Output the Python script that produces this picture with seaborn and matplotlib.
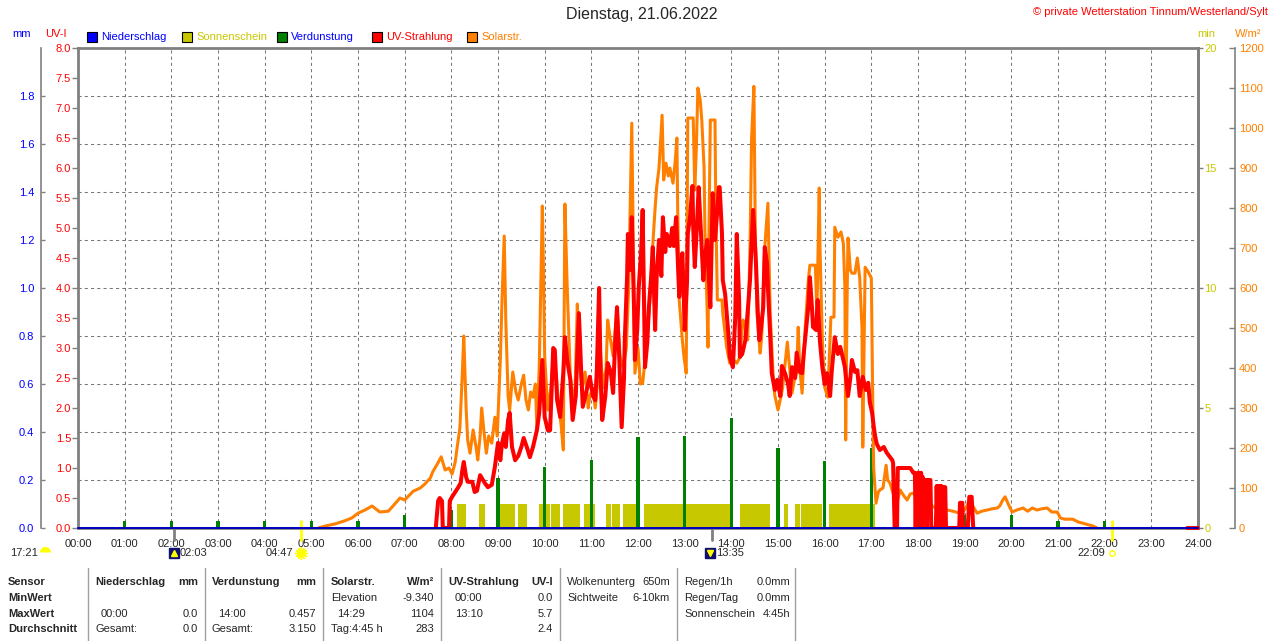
import numpy as np
import seaborn as sns
import matplotlib.pyplot as plt
import matplotlib.transforms as mtransforms
from matplotlib.patches import Rectangle
from matplotlib.lines import Line2D
from matplotlib.ticker import FormatStrFormatter

# ---------------- data, read off the station plot of 21.06.2022 ----------------
# Solarstrahlung: minute of day, W/m2
sol_min = [309, 318, 330, 343, 352, 360, 369, 378, 388, 399, 405, 414, 420, 431, 440, 446, 453, 456, 462, 467,
           472, 477, 481, 485, 487, 491, 494, 496, 499, 501, 504, 508, 512, 514, 517, 519, 522, 525, 528, 532,
           536, 539, 543, 545, 548, 550, 553, 555, 559, 563, 566, 570, 573, 576, 579, 582, 585, 588, 590, 593,
           595, 597, 598, 600, 604, 608, 611, 615, 617, 621, 624, 625, 626, 629, 633, 636, 639, 642, 644, 648,
           652, 656, 658, 662, 665, 669, 671, 675, 679, 681, 684, 688, 693, 697, 701, 705, 708, 711, 712, 714,
           716, 720, 723, 726, 729, 732, 735, 739, 742, 744, 747, 750, 751, 753, 756, 759, 761, 765, 768, 770,
           771, 773, 777, 779, 782, 783, 784, 791, 793, 795, 797, 800, 802, 805, 806, 809, 810, 811, 813, 819,
           820, 822, 828, 829, 834, 838, 843, 847, 851, 855, 858, 861, 864, 866, 869, 870, 871, 873, 877, 879,
           883, 887, 890, 894, 896, 900, 904, 906, 912, 914, 918, 922, 924, 926, 928, 931, 935, 939, 941, 948,
           950, 953, 954, 957, 960, 964, 968, 972, 973, 977, 981, 984, 986, 987, 989, 990, 993, 995, 999, 1002,
           1005, 1008, 1009, 1011, 1012, 1016, 1020, 1022, 1023, 1026, 1029, 1031, 1035, 1039, 1041, 1044, 1048,
           1052, 1054, 1057, 1062, 1066, 1070, 1074, 1079, 1083, 1088, 1092, 1095, 1099, 1108, 1117, 1125, 1134,
           1140, 1144, 1147, 1149, 1156, 1162, 1169, 1175, 1182, 1185, 1189, 1192, 1196, 1201, 1207, 1215, 1221,
           1227, 1233, 1239, 1246, 1252, 1259, 1263, 1269, 1279, 1286, 1292, 1299, 1305, 1310]
sol_wm2 = [0, 5, 10, 18, 25, 37, 45, 55, 40, 42, 55, 75, 70, 92, 100, 110, 125, 140, 160, 178,
           145, 150, 135, 165, 195, 250, 380, 480, 300, 220, 187, 245, 200, 170, 230, 300, 240, 187, 230, 212,
           277, 230, 420, 560, 730, 520, 330, 295, 390, 340, 320, 360, 382, 320, 295, 340, 327, 360, 252, 400,
           600, 805, 700, 430, 295, 350, 432, 380, 327, 260, 195, 500, 810, 600, 377, 330, 340, 560, 420, 350,
           390, 300, 330, 350, 300, 380, 460, 350, 400, 520, 478, 430, 552, 430, 400, 450, 600, 900, 1012, 700,
           387, 450, 360, 362, 420, 487, 560, 707, 800, 852, 900, 1000, 1032, 870, 912, 880, 900, 862, 920, 975,
           800, 570, 470, 430, 387, 700, 1025, 1025, 845, 950, 1100, 1070, 1020, 900, 745, 537, 452, 700, 1020, 1020,
           800, 570, 570, 537, 452, 412, 420, 412, 427, 520, 500, 470, 700, 970, 1104, 900, 702, 537, 437, 477,
           702, 812, 537, 370, 330, 295, 330, 352, 465, 420, 337, 380, 387, 502, 400, 337, 500, 620, 657, 657,
           537, 850, 700, 470, 352, 327, 527, 527, 752, 727, 740, 712, 600, 220, 600, 725, 645, 637, 637, 675,
           627, 500, 202, 500, 652, 640, 625, 287, 150, 62, 90, 95, 100, 157, 120, 112, 87,
           78, 70, 95, 80, 70, 85, 87, 75, 70, 82, 87, 65, 53, 50, 45, 42, 37,
           45, 60, 78, 60, 37, 42, 45, 48, 50, 55, 70, 78, 60, 40, 45, 50, 42,
           50, 45, 48, 50, 40, 40, 25, 22, 22, 15, 12, 8, 5, 0]

# UV-Strahlung: minute of day, UV index
uv_min = [460, 463, 465, 468, 469, 477, 478, 481, 485, 489, 492, 494, 496, 499, 501, 507, 510, 513, 517, 523,
          527, 532, 536, 540, 543, 545, 548, 550, 553, 555, 558, 562, 566, 570, 573, 577, 581, 585, 588, 590,
          593, 597, 599, 600, 604, 607, 611, 613, 616, 620, 624, 626, 629, 633, 636, 640, 644, 647, 649, 654,
          658, 662, 665, 667, 670, 672, 674, 678, 681, 685, 688, 690, 693, 696, 699, 702, 703, 706, 707, 710,
          712, 715, 716, 719, 721, 724, 726, 729, 732, 734, 737, 739, 742, 744, 747, 750, 752, 755, 757, 761,
          764, 766, 769, 771, 773, 775, 777, 779, 780, 783, 784, 787, 790, 791, 793, 796, 798, 801, 804, 806,
          809, 811, 813, 815, 816, 819, 822, 824, 825, 828, 829, 832, 834, 837, 838, 842, 845, 847, 850, 851,
          854, 858, 861, 864, 868, 871, 872, 874, 876, 878, 881, 883, 886, 887, 890, 892, 896, 899, 903, 905,
          909, 913, 915, 918, 922, 924, 928, 931, 933, 936, 939, 941, 944, 945, 949, 951, 954, 957, 960, 963,
          967, 969, 973, 977, 980, 984, 986, 990, 993, 995, 999, 1002, 1005, 1009, 1013, 1016, 1018, 1021, 1023,
          1025, 1027, 1031, 1036, 1040, 1044, 1047, 1048, 1050, 1053, 1054, 1070, 1074, 1076, 1077, 1078, 1079,
          1080, 1081, 1082, 1083, 1084, 1085, 1086, 1087, 1088, 1089, 1090, 1091, 1092, 1093, 1094, 1095, 1096,
          1097, 1103, 1104, 1105, 1106, 1107, 1108, 1109, 1110, 1111, 1112, 1113, 1114, 1115, 1116, 1133, 1134,
          1137, 1138, 1144, 1146, 1149, 1151]
uv_idx = [0, 0.45, 0.5, 0.45, 0, 0, 0.45, 0.52, 0.6, 0.68, 0.75, 0.95, 1.1, 0.85, 0.77, 0.77, 0.6, 0.62, 0.88, 0.75,
          0.68, 0.72, 1.02, 1.42, 1.13, 1.4, 1.58, 1.35, 1.8, 1.92, 1.35, 1.13, 1.2, 1.35, 1.5, 1.35, 1.18, 1.35, 1.52, 1.63,
          1.92, 2.8, 2.18, 1.85, 1.63, 1.63, 3.0, 2.97, 2.13, 1.85, 2.6, 3.18, 2.8, 2.47, 1.8, 2.2, 3.58, 2.6, 2.02, 2.3,
          2.52, 2.2, 2.13, 2.6, 4.0, 2.5, 1.8, 2.2, 2.75, 2.6, 2.25, 2.9, 3.68, 2.8, 1.68, 2.5, 3.13, 4.2, 4.9, 4.3,
          5.18, 3.6, 2.8, 3.3, 4.02, 4.6, 5.3, 2.68, 3.1, 3.68, 4.2, 4.68, 3.3, 4.2, 4.8, 4.2, 5.18, 4.6, 4.9, 4.7,
          5.0, 4.7, 5.18, 4.5, 3.85, 4.3, 4.58, 3.8, 3.3, 4.1, 4.9, 5.2, 5.7, 5.0, 4.35, 5.1, 5.68, 4.9, 4.13, 4.5,
          4.8, 4.2, 3.68, 4.9, 5.58, 4.8, 5.3, 5.68, 5.68, 4.9, 4.13, 3.9, 3.58, 3.1, 2.85, 2.68, 3.5, 4.9, 3.8, 2.85,
          2.9, 3.13, 3.6, 4.13, 5.3, 4.6, 4.3, 3.6, 3.13, 3.3, 3.68, 4.68, 4.4, 4.02, 3.2, 2.58, 2.3, 2.47, 2.2, 2.7,
          2.58, 2.4, 2.2, 2.68, 2.5, 2.92, 2.6, 2.58, 2.9, 3.3, 3.7, 4.18, 3.6, 3.35, 3.3, 3.8, 3.1, 2.68, 2.4, 2.58,
          2.2, 2.6, 3.18, 2.9, 3.02, 2.8, 2.68, 2.2, 2.5, 2.8, 2.6, 2.63, 2.2, 2.52, 2.3, 2.42, 2.1, 1.92, 1.7,
          1.52, 1.4, 1.3, 1.35, 1.25, 1.18, 1.13, 1.08, 0, 0, 1.0, 1.0, 0.92, 0.92, 0, 0.9, 0,
          0.92, 0.3, 0.92, 0.2, 0.92, 0, 0.85, 0.1, 0.8, 0.2, 0.8, 0, 0.8, 0.3, 0.8, 0.8, 0.8,
          0, 0, 0.7, 0.1, 0.7, 0, 0.7, 0.2, 0.7, 0, 0.68, 0.1, 0.68, 0.68, 0, 0, 0.42,
          0.42, 0, 0, 0.52, 0.52, 0]
uv_end_min = [1426, 1440]
uv_end_idx = [0.0, 0.0]

# Sonnenschein: sunny intervals (minute of day), minutes of sun per interval step
sun_start = [487, 516, 541, 566, 593, 608, 624, 651, 679, 687, 701, 728, 851, 908, 922, 930, 966]
sun_end = [499, 523, 562, 577, 607, 620, 645, 665, 685, 697, 719, 838, 890, 913, 928, 957, 1025]
sun_val = [1.0, 1.0, 1.0, 1.0, 1.0, 1.0, 1.0, 1.0, 1.0, 1.0, 1.0, 1.0, 1.0, 1.0, 1.0, 1.0, 1.0]

# Verdunstung per hour (mm)
evap_hour = [1, 2, 3, 4, 5, 6, 7, 8, 9, 10, 11, 12, 13, 14, 15, 16, 17, 18, 19, 20, 21, 22]
evap_mm = [0.03, 0.03, 0.03, 0.03, 0.03, 0.03, 0.055, 0.075, 0.21, 0.255, 0.283, 0.38,
           0.383, 0.457, 0.333, 0.28, 0.333, 0.08, 0.055, 0.055, 0.03, 0.03]

# Niederschlag (mm)
rain_hour = [0, 24]
rain_mm = [0.0, 0.0]

# astro times below the axis
moonset_prev = "17:21"
moon_rise = "02:03"
sun_rise = "04:47"
moon_set = "13:35"
sun_set = "22:09"

# summary table
nied_max = ("00:00", "0.0")
nied_sum = "0.0"
evap_max = ("14:00", "0.457")
evap_sum = "3.150"
sol_elev = "-9.340"
sol_max = ("14:29", "1104")
sol_day = ("Tag:4:45 h", "283")
uv_minv = ("00:00", "0.0")
uv_maxv = ("13:10", "5.7")
uv_avg = "2.4"
cloud_info = [("Wolkenunterg", "650m"), ("Sichtweite", "6-10km")]
rain_info = [("Regen/1h", "0.0mm"), ("Regen/Tag", "0.0mm"), ("Sonnenschein", "4:45h")]

# ---------------- style ----------------
C_BLUE = '#0000FF'
C_RAIN = '#0000C0'
C_SUN = '#C8C800'
C_EVAP = '#008000'
C_UV = '#FF0000'
C_SOL = '#FF8000'
C_GRAY = '#808080'

sns.set_style("white")
plt.rcParams['font.family'] = ['Liberation Sans', 'DejaVu Sans']
plt.rcParams['font.size'] = 8

W, H = 1280, 641


def fx(x):
    return x / W


def fy(y):
    return 1 - y / H


def hm(s):
    h, m = s.split(':')
    return int(h) + int(m) / 60


fig = plt.figure(figsize=(12.8, 6.41), dpi=100)
ax_mm = fig.add_axes([fx(78), fy(528), 1120 / W, 480 / H])
ax_min = ax_mm.twinx()
ax_evap = ax_mm.twinx()
ax_sol = ax_mm.twinx()
ax_uv = ax_mm.twinx()
ax_rain = ax_mm.twinx()

# ---- series ----
ax_min.bar(np.array(sun_start) / 60, sun_val, width=(np.array(sun_end) - np.array(sun_start)) / 60,
           align='edge', color=C_SUN, linewidth=0)
ax_evap.bar(evap_hour, evap_mm, width=0.07, color=C_EVAP, linewidth=0)
sns.lineplot(x=np.array(sol_min) / 60, y=sol_wm2, ax=ax_sol, color=C_SOL, linewidth=2.2,
             estimator=None, sort=False)
sns.lineplot(x=np.array(uv_min) / 60, y=uv_idx, ax=ax_uv, color=C_UV, linewidth=2.9,
             estimator=None, sort=False)
sns.lineplot(x=np.array(uv_end_min) / 60, y=uv_end_idx, ax=ax_uv, color=C_UV, linewidth=2.8,
             estimator=None, sort=False, clip_on=False)
sns.lineplot(x=rain_hour, y=rain_mm, ax=ax_rain, color=C_RAIN, linewidth=1.4,
             estimator=None, sort=False, clip_on=False)

# ---- scales ----
ax_mm.set_xlim(0, 24)
ax_mm.set_ylim(0, 2)
ax_evap.set_ylim(0, 2)
ax_rain.set_ylim(0, 2)
ax_min.set_ylim(0, 20)
ax_sol.set_ylim(0, 1200)
ax_uv.set_ylim(0, 8)

ax_mm.set_xticks(range(25))
ax_mm.set_xticklabels([f"{h:02d}:00" for h in range(25)])
ax_mm.set_yticks(np.arange(0, 1.81, 0.2))
ax_mm.yaxis.set_major_formatter(FormatStrFormatter('%.1f'))
ax_mm.grid(True, color='#787878', linestyle=(0, (3, 3)), linewidth=0.75)
ax_mm.tick_params(axis='x', direction='out', length=3, width=1, color=C_GRAY, pad=5, labelsize=8)
ax_mm.tick_params(axis='y', direction='in', length=3, width=1, color=C_GRAY, labelcolor=C_BLUE,
                  pad=5, labelsize=8)

ax_uv.yaxis.tick_left()
ax_uv.set_yticks(np.arange(0, 8.01, 0.5))
ax_uv.yaxis.set_major_formatter(FormatStrFormatter('%.1f'))
ax_uv.tick_params(axis='y', direction='out', length=4, width=1, color=C_GRAY, labelcolor=C_UV,
                  pad=1, labelsize=8)

ax_min.set_yticks([0, 5, 10, 15, 20])
ax_min.tick_params(axis='y', direction='out', length=3.5, width=1, color=C_GRAY, labelcolor=C_SUN,
                   pad=1, labelsize=8)

ax_sol.set_yticks(np.arange(0, 1201, 100))
ax_sol.tick_params(axis='y', direction='in', length=4, width=1, color=C_GRAY, labelcolor=C_SOL,
                   pad=3, labelsize=8)

for a in (ax_evap, ax_rain):
    a.set_yticks([])
    a.tick_params(left=False, right=False)

for a in (ax_min, ax_evap, ax_sol, ax_uv, ax_rain):
    a.set_xlabel('')
    a.set_ylabel('')
    for sp in a.spines.values():
        sp.set_visible(False)
ax_mm.set_xlabel('')
ax_mm.set_ylabel('')

for k in ('top', 'bottom', 'right'):
    ax_mm.spines[k].set_color(C_GRAY)
    ax_mm.spines[k].set_linewidth(2)
ax_mm.spines['left'].set_position(('outward', 26.6))
ax_mm.spines['left'].set_color(C_GRAY)
ax_mm.spines['left'].set_linewidth(1.2)

ax_uv.spines['left'].set_visible(True)
ax_uv.spines['left'].set_color(C_GRAY)
ax_uv.spines['left'].set_linewidth(2)
ax_min.spines['right'].set_visible(True)
ax_min.spines['right'].set_color(C_GRAY)
ax_min.spines['right'].set_linewidth(2)
ax_sol.spines['right'].set_visible(True)
ax_sol.spines['right'].set_position(('outward', 26.6))
ax_sol.spines['right'].set_color(C_GRAY)
ax_sol.spines['right'].set_linewidth(1.2)

# ---- astro marks under the time axis ----
trans = mtransforms.blended_transform_factory(ax_mm.transData, ax_mm.transAxes)


def yax(ypix):
    return (528 - ypix) / 480


for t in (moon_rise, moon_set):
    ax_mm.plot([hm(t)] * 2, [yax(528), yax(540)], color=C_GRAY, lw=2, transform=trans, clip_on=False)
for t in (sun_rise, sun_set):
    ax_mm.plot([hm(t)] * 2, [yax(521), yax(540)], color='#FFFF00', lw=2, transform=trans, clip_on=False)

ym = yax(553)
# moon rise icon + text
ax_mm.plot(hm(moon_rise), ym, marker='s', ms=7, color='#101070', transform=trans, clip_on=False)
ax_mm.plot(hm(moon_rise), ym, marker='^', ms=4, color='#FFFF00', transform=trans, clip_on=False)
ax_mm.annotate(moon_rise, xy=(hm(moon_rise), ym), xycoords=trans, xytext=(4.5, 0),
               textcoords='offset points', ha='left', va='center', size=8)
# sunrise
ax_mm.plot(hm(sun_rise), ym, marker=(12, 2, 0), ms=9, color='#FFFF00', mew=1, transform=trans, clip_on=False)
ax_mm.plot(hm(sun_rise), ym, marker='o', ms=5, color='#FFFF00', transform=trans, clip_on=False)
ax_mm.annotate(sun_rise, xy=(hm(sun_rise), ym), xycoords=trans, xytext=(-5.5, 0),
               textcoords='offset points', ha='right', va='center', size=8)
# moon set
ax_mm.plot(hm(moon_set) - 0.04, ym, marker='s', ms=7, color='#101070', transform=trans, clip_on=False)
ax_mm.plot(hm(moon_set) - 0.04, ym, marker='v', ms=4, color='#FFFF00', transform=trans, clip_on=False)
ax_mm.annotate(moon_set, xy=(hm(moon_set), ym), xycoords=trans, xytext=(3, 0),
               textcoords='offset points', ha='left', va='center', size=8)
# sunset
ax_mm.plot(hm(sun_set), ym, marker='o', ms=4, mfc='none', mec='#FFFF00', mew=1, transform=trans,
           clip_on=False)
ax_mm.annotate(sun_set, xy=(hm(sun_set), ym), xycoords=trans, xytext=(-4.5, 0),
               textcoords='offset points', ha='right', va='center', size=8)
# previous moon set at far left
fig.text(fx(10), fy(553), moonset_prev, ha='left', va='center', size=8)
moon = Line2D([fx(45)], [fy(552)], marker='o', ms=8, fillstyle='top', mfc='#FFFF00', mec='none',
              markerfacecoloralt='none', transform=fig.transFigure)
fig.add_artist(moon)

# ---- titles, axis names, legend ----
fig.text(fx(642), fy(15), "Dienstag, 21.06.2022", ha='center', va='center', size=11.5)
fig.text(fx(1268), fy(12), "\u00a9 private Wetterstation Tinnum/Westerland/Sylt", ha='right', va='center',
         size=8, color=C_UV)
fig.text(fx(22), fy(34), "mm", ha='center', va='center', color=C_BLUE, size=8)
fig.text(fx(56), fy(34), "UV-I", ha='center', va='center', color=C_UV, size=8)
fig.text(fx(1206), fy(34), "min", ha='center', va='center', color=C_SUN, size=8)
fig.text(fx(1248), fy(34), "W/m\u00b2", ha='center', va='center', color=C_SOL, size=8)

legend_items = [("Niederschlag", C_BLUE, C_BLUE), ("Sonnenschein", C_SUN, C_SUN),
                ("Verdunstung", C_EVAP, C_BLUE), ("UV-Strahlung", C_UV, C_UV), ("Solarstr.", C_SOL, C_SOL)]
for i, (name, fc, tc) in enumerate(legend_items):
    x0 = 87 + 95 * i
    fig.add_artist(Rectangle((fx(x0), fy(42)), 10 / W, 10 / H, facecolor=fc, edgecolor='black',
                             linewidth=0.8, transform=fig.transFigure))
    fig.text(fx(x0 + 14), fy(37), name, ha='left', va='center', color=tc, size=8)

# ---- summary table ----
for xs in (88, 205, 323, 441, 560, 677, 795):
    fig.add_artist(Line2D([fx(xs)] * 2, [fy(568), fy(641)], color='#A0A0A0', lw=1,
                          transform=fig.transFigure))

rows_y = [582, 598, 614, 629]


def txt(x, y, s, ha='left', bold=False):
    fig.text(fx(x), fy(y), s, ha=ha, va='center', size=8, weight='bold' if bold else 'normal')


for y, s in zip(rows_y, ["Sensor", "MinWert", "MaxWert", "Durchschnitt"]):
    txt(8, y, s, bold=True)

txt(95, rows_y[0], "Niederschlag", bold=True)
txt(198, rows_y[0], "mm", ha='right', bold=True)
txt(101, rows_y[2], nied_max[0])
txt(198, rows_y[2], nied_max[1], ha='right')
txt(95, rows_y[3], "Gesamt:")
txt(198, rows_y[3], nied_sum, ha='right')

txt(212, rows_y[0], "Verdunstung", bold=True)
txt(316, rows_y[0], "mm", ha='right', bold=True)
txt(218, rows_y[2], evap_max[0])
txt(316, rows_y[2], evap_max[1], ha='right')
txt(212, rows_y[3], "Gesamt:")
txt(316, rows_y[3], evap_sum, ha='right')

txt(331, rows_y[0], "Solarstr.", bold=True)
txt(434, rows_y[0], "W/m\u00b2", ha='right', bold=True)
txt(331, rows_y[1], "Elevation")
txt(434, rows_y[1], sol_elev, ha='right')
txt(337, rows_y[2], sol_max[0])
txt(434, rows_y[2], sol_max[1], ha='right')
txt(331, rows_y[3], sol_day[0])
txt(434, rows_y[3], sol_day[1], ha='right')

txt(448, rows_y[0], "UV-Strahlung", bold=True)
txt(553, rows_y[0], "UV-I", ha='right', bold=True)
txt(455, rows_y[1], uv_minv[0])
txt(553, rows_y[1], uv_minv[1], ha='right')
txt(455, rows_y[2], uv_maxv[0])
txt(553, rows_y[2], uv_maxv[1], ha='right')
txt(553, rows_y[3], uv_avg, ha='right')

for y, (a, b) in zip(rows_y, cloud_info):
    txt(567, y, a)
    txt(670, y, b, ha='right')
for y, (a, b) in zip(rows_y, rain_info):
    txt(684, y, a)
    txt(790, y, b, ha='right')

fig.savefig("out.png", dpi=100)
